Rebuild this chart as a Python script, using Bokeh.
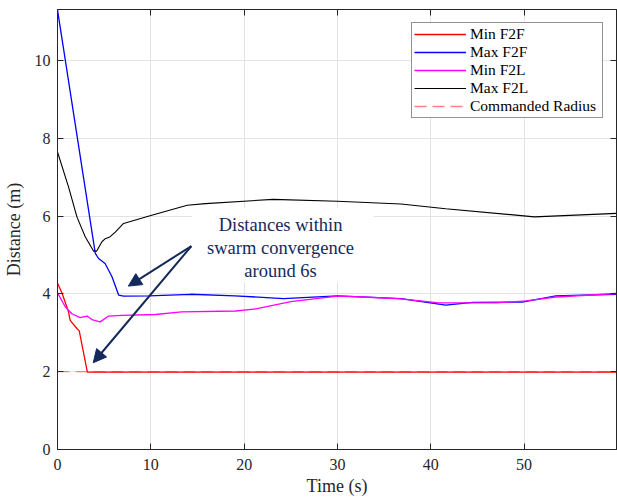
from bokeh.plotting import figure
from bokeh.models import (Range1d, LinearAxis, FixedTicker, Legend, LegendItem,
                          Arrow, NormalHead, Label, BoxAnnotation)
from bokeh.embed import file_html
from bokeh.resources import INLINE

# ---- data ----
t_min_f2f = [0, 0.47, 1.18, 1.36, 2.08, 2.33, 3.2, 10, 20, 30, 40, 50, 59.9]
d_min_f2f = [4.27, 4.03, 3.54, 3.32, 3.11, 3.05, 1.99, 1.99, 1.99, 1.99, 1.99, 1.99, 1.99]

t_max_f2f = [0, 4.05, 4.4, 5.1, 5.84, 6.55, 7.08, 9.8, 14.25, 19, 24.2, 30, 36.8, 41.6, 44.5, 49.8, 53.4, 59.9]
d_max_f2f = [11.3, 5.04, 4.91, 4.78, 4.44, 3.97, 3.94, 3.95, 3.99, 3.95, 3.88, 3.95, 3.88, 3.71, 3.78, 3.79, 3.95, 3.99]

t_min_f2l = [0, 0.83, 1.54, 2.43, 3.15, 3.69, 4.58, 5.47, 6.9, 10.5, 13.3, 19.1, 21.4, 25, 30, 32.8, 36.8, 40.9, 47, 50.2, 53.4, 59.9]
d_min_f2l = [4.03, 3.67, 3.49, 3.39, 3.43, 3.34, 3.28, 3.43, 3.45, 3.47, 3.54, 3.56, 3.62, 3.80, 3.94, 3.92, 3.87, 3.77, 3.77, 3.82, 3.92, 4.01]

t_max_f2l = [0, 1.18, 2.08, 2.97, 3.86, 4.2, 4.76, 5.12, 5.65, 6.19, 7.08, 10.1, 13.9, 15.85, 23.1, 30, 36.8, 41.6, 51.1, 59.9]
d_max_f2l = [7.65, 6.75, 5.98, 5.47, 5.10, 5.10, 5.34, 5.42, 5.47, 5.59, 5.81, 6.02, 6.28, 6.32, 6.43, 6.38, 6.31, 6.19, 5.98, 6.07]

t_cmd = [0, 59.9]
d_cmd = [2, 2]

x_ticks = [0, 10, 20, 30, 40, 50]
y_ticks = [0, 2, 4, 6, 8, 10]

labels = ["Min F2F", "Max F2F", "Min F2L", "Max F2L", "Commanded Radius"]
annotation_lines = ["Distances within", "swarm convergence", "around 6s"]

FONT = "Liberation Serif"
NAVY = "#13295b"
AX = "#262626"

p = figure(width=617, height=500, output_backend="svg", toolbar_location=None,
           x_range=Range1d(0, 59.9), y_range=Range1d(0, 11.31),
           min_border_left=57, min_border_right=1, min_border_top=9, min_border_bottom=51,
           x_axis_label="Time (s)", y_axis_label="Distance (m)")
p.outline_line_color = AX
p.outline_line_width = 1
p.background_fill_color = "white"
p.border_fill_color = "white"

for ax in (p.xaxis[0], p.yaxis[0]):
    ax.major_tick_in = 6
    ax.major_tick_out = 0
    ax.minor_tick_line_color = None
    ax.axis_line_color = AX
    ax.major_tick_line_color = AX
    ax.major_label_text_font = FONT
    ax.major_label_text_font_size = "16px"
    ax.major_label_text_color = AX
    ax.axis_label_text_font = FONT
    ax.axis_label_text_font_size = "18px"
    ax.axis_label_text_font_style = "normal"
    ax.axis_label_text_color = AX
p.xaxis[0].ticker = FixedTicker(ticks=x_ticks)
p.yaxis[0].ticker = FixedTicker(ticks=y_ticks)
p.xaxis[0].major_label_standoff = 9
p.xaxis[0].axis_label_standoff = 3
p.yaxis[0].major_label_standoff = 7
p.yaxis[0].axis_label_standoff = 8

top = LinearAxis(ticker=FixedTicker(ticks=x_ticks),
                 major_label_overrides={t: "" for t in x_ticks},
                 major_tick_in=6, major_tick_out=0, minor_tick_line_color=None,
                 major_label_standoff=0, axis_line_color=AX, major_tick_line_color=AX)
right = LinearAxis(ticker=FixedTicker(ticks=y_ticks),
                   major_label_overrides={t: "" for t in y_ticks},
                   major_tick_in=6, major_tick_out=0, minor_tick_line_color=None,
                   major_label_standoff=0, axis_line_color=AX, major_tick_line_color=AX)
p.add_layout(top, "above")
p.add_layout(right, "right")

p.xgrid.ticker = FixedTicker(ticks=x_ticks)
p.ygrid.ticker = FixedTicker(ticks=y_ticks)
p.grid.grid_line_color = "#e3e3e3"
p.grid.grid_line_width = 1

r_cmd = p.line(t_cmd, d_cmd, line_color="#ff8080", line_width=1.3, line_dash="12 6")
r1 = p.line(t_min_f2f, d_min_f2f, line_color="#ff0000", line_width=1.3)
r2 = p.line(t_max_f2f, d_max_f2f, line_color="#0000ff", line_width=1.3)
r3 = p.line(t_min_f2l, d_min_f2l, line_color="#ff00ff", line_width=1.3)
r4 = p.line(t_max_f2l, d_max_f2l, line_color="#000000", line_width=1.1)

# annotation box and text
p.add_layout(BoxAnnotation(left=14.45, right=33.9, bottom=4.3, top=6.2,
                           fill_color="white", fill_alpha=1, line_alpha=0))
for txt, yy in zip(annotation_lines, [5.77, 5.17, 4.60]):
    p.add_layout(Label(x=23.9, y=yy, text=txt, text_align="center", text_baseline="middle",
                       text_font=FONT, text_font_size="18.5px", text_color=NAVY))

for xe, ye in [(7.59, 4.2), (3.83, 2.23)]:
    p.add_layout(Arrow(x_start=14.35, y_start=5.23, x_end=xe, y_end=ye,
                       line_color=NAVY, line_width=2,
                       end=NormalHead(size=13, fill_color=NAVY, line_color=NAVY)))

legend = Legend(items=[LegendItem(label=labels[0], renderers=[r1]),
                       LegendItem(label=labels[1], renderers=[r2]),
                       LegendItem(label=labels[2], renderers=[r3]),
                       LegendItem(label=labels[3], renderers=[r4]),
                       LegendItem(label=labels[4], renderers=[r_cmd])],
                location="top_right", margin=13, padding=2, spacing=0,
                glyph_width=52, glyph_height=18, label_height=18, label_standoff=4,
                label_width=130, label_text_font=FONT, label_text_font_size="15.5px",
                label_text_color="#000000", border_line_color=AX, border_line_width=1,
                background_fill_color="white", background_fill_alpha=1)
p.add_layout(legend, "center")

open("out.html", "w").write(file_html(p, INLINE))
